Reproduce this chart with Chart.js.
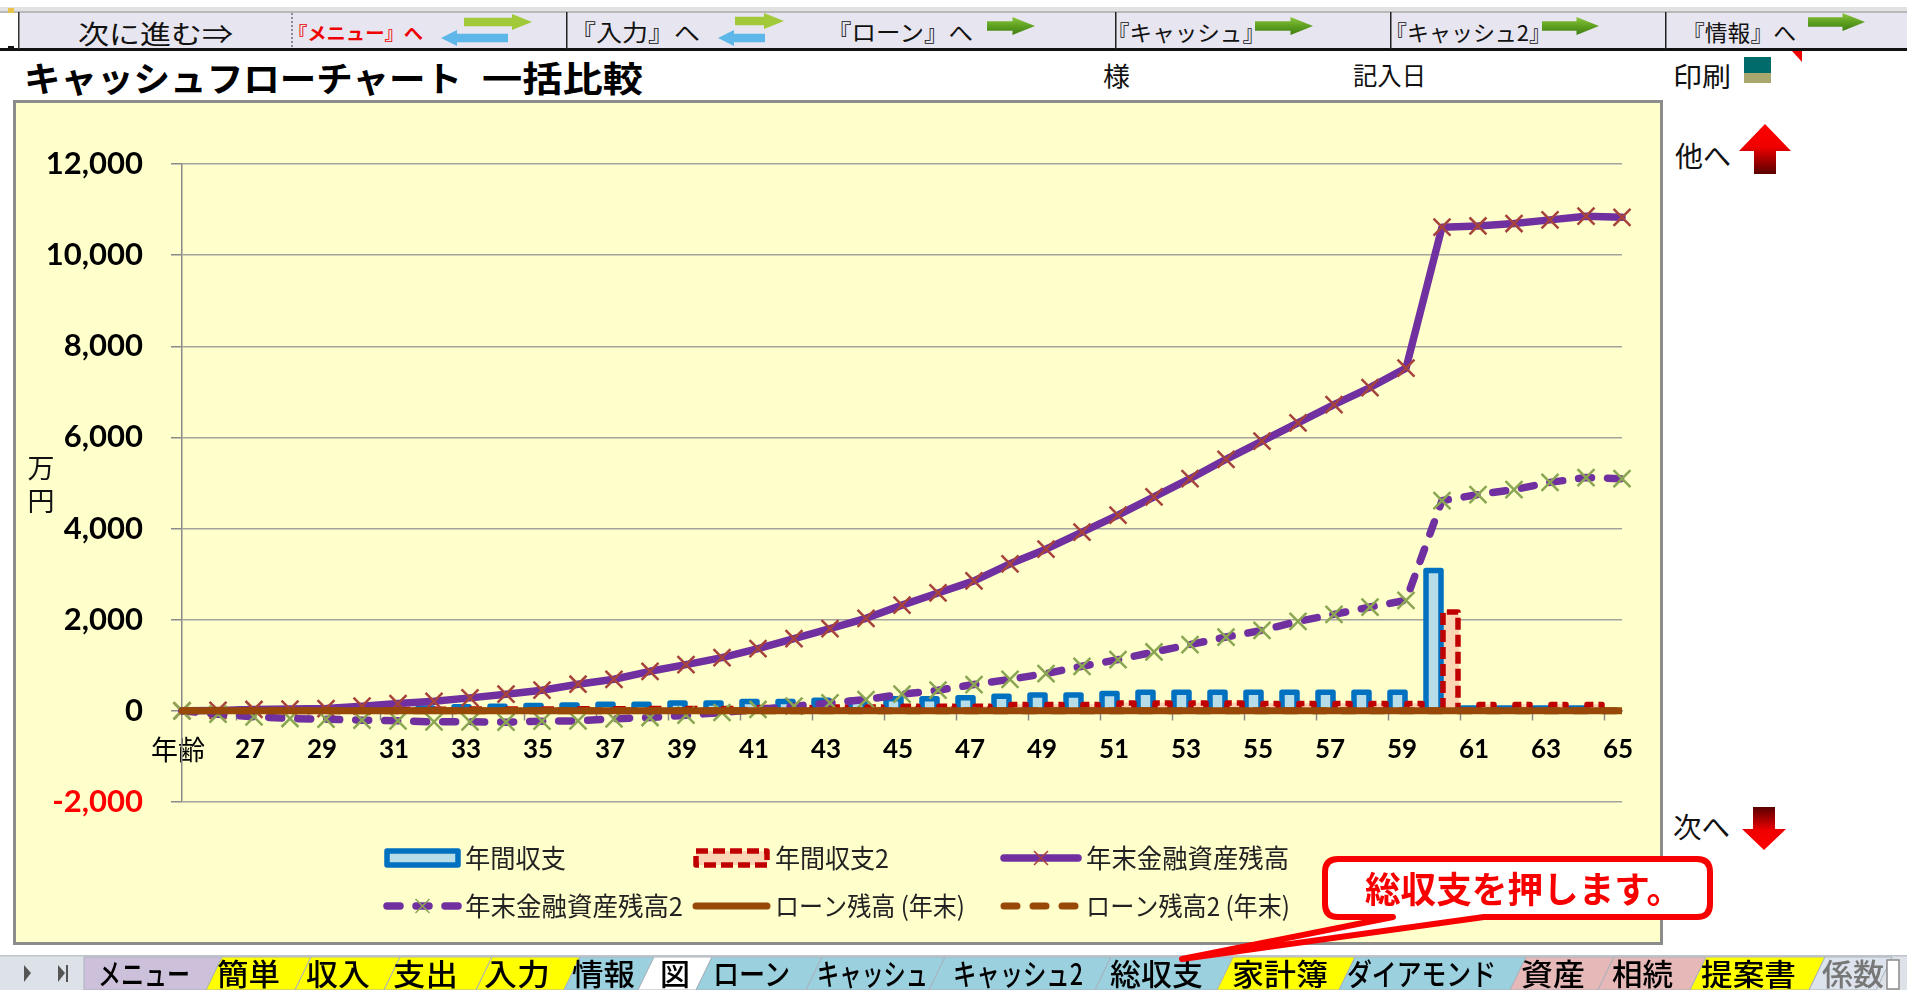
<!DOCTYPE html>
<html lang="ja"><head><meta charset="utf-8">
<style>
html,body{margin:0;padding:0;background:#fff;overflow:hidden;width:1907px;height:990px}
#chrome,#over{position:absolute;left:0;top:0}
#wrap{position:absolute;left:15px;top:102px;width:1646px;height:841px}
canvas{display:block}
</style>
<script src="https://cdn.jsdelivr.net/npm/chart.js@4"></script>
</head><body>
<svg id="chrome" width="1907" height="990"></svg>
<div id="wrap"><canvas id="c" width="1646" height="841" style="width:1646px;height:841px"></canvas></div>
<svg id="over" width="1907" height="990"></svg>
<script>
const categories=[25,26,27,28,29,30,31,32,33,34,35,36,37,38,39,40,41,42,43,44,45,46,47,48,49,50,51,52,53,54,55,56,57,58,59,60,61,62,63,64,65];
const tickLabels=['年齢','','27','','29','','31','','33','','35','','37','','39','','41','','43','','45','','47','','49','','51','','53','','55','','57','','59','','61','','63','','65'];
const seriesNames=['年間収支','年間収支2','年末金融資産残高','年末金融資産残高2','ローン残高 (年末)','ローン残高2 (年末)'];
const annual=[0,0,40,40,45,50,50,60,88,102,117,130,146,146,175,175,204,205,233,235,263,263,285,321,350,350,380,409,409,409,409,409,409,409,409,3080,65,65,65,65,0];
const annual2=[0,0,20,20,25,30,30,35,40,40,40,45,45,50,50,50,73,73,85,85,102,102,102,139,139,139,175,175,175,175,160,160,160,160,160,2170,139,139,139,139,0];
const assets=[0,10,30,40,50,102,160,210,285,365,453,584,693,868,1014,1168,1367,1586,1805,2030,2320,2587,2853,3227,3547,3920,4294,4694,5094,5520,5920,6320,6720,7094,7520,10614,10640,10694,10774,10854,10830];
const assets2=[0,-73,-131,-168,-182,-204,-219,-241,-241,-248,-226,-219,-175,-146,-95,-36,30,102,175,248,365,453,577,693,818,978,1124,1292,1453,1620,1767,1964,2117,2278,2424,4614,4747,4854,5014,5120,5094];
const loan=[0,0,0,0,0,0,0,0,0,0,0,0,0,0,0,0,0,0,0,0,0,0,0,0,0,0,0,0,0,0,0,0,0,0,0,0,0,0,0,0,0];
const loan2=[0,0,0,0,0,0,0,0,0,0,0,0,0,0,0,0,0,0,0,0,0,0,0,0,0,0,0,0,0,0,0,0,0,0,0,0,0,0,0,0,0];

const JP='"Noto Sans CJK JP","Noto Sans",sans-serif';
const NS='http://www.w3.org/2000/svg';
function el(svg,tag,attrs,txt){const e=document.createElementNS(NS,tag);for(const k in attrs)e.setAttribute(k,attrs[k]);if(txt!==undefined)e.textContent=txt;svg.appendChild(e);return e;}
const chrome=document.getElementById('chrome'),over=document.getElementById('over');
function text(svg,s,x0,x1,cy,size,opt={}){
  el(svg,'text',{x:x0,y:cy,'font-family':JP,'font-size':size,'font-weight':opt.weight||400,fill:opt.fill||'#111','dominant-baseline':'central',textLength:x1-x0,lengthAdjust:'spacingAndGlyphs'},s);
}
const defs=el(chrome,'defs',{});
function grad(svg,id,stops,x2,y2){const d=svg.querySelector('defs')||el(svg,'defs',{});const g=el(d,'linearGradient',{id,x1:0,y1:0,x2:x2,y2:y2});stops.forEach(s=>el(g,'stop',{offset:s[0],'stop-color':s[1]}));}
grad(chrome,'gGreen',[[0,'#8CC63F'],[0.5,'#5EA11F'],[1,'#3F7F14']],0,1);
grad(chrome,'gUp',[[0,'#FF0000'],[0.45,'#F00000'],[1,'#5A0000']],0,1);
grad(chrome,'gDown',[[0,'#5A0000'],[0.55,'#F00000'],[1,'#FF0000']],0,1);
function arrowR(svg,x,y,w,h,fill){const hl=h*1.25,t=y+h*0.24,b=y+h*0.76;
  el(svg,'polygon',{points:`${x},${t} ${x+w-hl},${t} ${x+w-hl},${y} ${x+w},${y+h/2} ${x+w-hl},${y+h} ${x+w-hl},${b} ${x},${b}`,fill});}
function arrowL(svg,x,y,w,h,fill){const hl=h*1.0,t=y+h*0.24,b=y+h*0.76;
  el(svg,'polygon',{points:`${x+w},${t} ${x+hl},${t} ${x+hl},${y} ${x},${y+h/2} ${x+hl},${y+h} ${x+hl},${b} ${x+w},${b}`,fill});}

// top band
el(chrome,'rect',{x:0,y:7,width:1907,height:5,fill:'#E2E2E2'});
el(chrome,'rect',{x:18,y:12,width:1889,height:37,fill:'#E7E5EF'});
el(chrome,'rect',{x:0,y:11,width:1907,height:2,fill:'#B9B9B9'});
el(chrome,'rect',{x:0,y:48,width:1907,height:3,fill:'#111'});
el(chrome,'rect',{x:8,y:8,width:6,height:5,fill:'#E8C24A'});
el(chrome,'rect',{x:8,y:46,width:6,height:5,fill:'#111'});
el(chrome,'rect',{x:18,y:12,width:1.5,height:37,fill:'#333'});
el(chrome,'line',{x1:292,y1:13,x2:292,y2:48,stroke:'#333','stroke-width':1,'stroke-dasharray':'2 2'});
[566,1115,1390,1665].forEach(x=>el(chrome,'rect',{x:x,y:12,width:1.5,height:37,fill:'#222'}));
text(chrome,'次に進む⇒',78,233,32,26);
text(chrome,'『メニュー』へ',288,423,32,18,{fill:'#F00000',weight:700});
arrowR(chrome,464,14,68,16,'#A2C93A');arrowL(chrome,441,30,67,16,'#5DB7E8');
text(chrome,'『入力』へ',570,700,31,23);
arrowR(chrome,735,13,49,16,'#A2C93A');arrowL(chrome,718,30,47,16,'#5DB7E8');
text(chrome,'『ローン』へ',827,973,31,23);arrowR(chrome,987,17,48,18,'url(#gGreen)');
text(chrome,'『キャッシュ』',1107,1265,31,22);arrowR(chrome,1255,17,58,18,'url(#gGreen)');
text(chrome,'『キャッシュ2』',1385,1551,31,22);arrowR(chrome,1542,17,57,18,'url(#gGreen)');
text(chrome,'『情報』へ',1682,1796,31,22);arrowR(chrome,1808,13,57,18,'url(#gGreen)');

// heading row
text(chrome,'キャッシュフローチャート',24,462,76,35,{weight:700,fill:'#000'});
text(chrome,'一括比較',482,643,76,35,{weight:700,fill:'#000'});
text(chrome,'様',1103,1130,74,26);
text(chrome,'記入日',1353,1426,74,25);
text(chrome,'印刷',1673,1731,75,27);
el(chrome,'rect',{x:1744,y:57,width:27,height:16,fill:'#006B6B'});
el(chrome,'rect',{x:1744,y:73,width:27,height:10,fill:'#A9A66E'});
el(chrome,'polygon',{points:'1792,51 1802,51 1802,62',fill:'#F00000'});
text(chrome,'他へ',1675,1731,155,28);
el(chrome,'polygon',{points:'1765,124 1791,151 1776,151 1776,174 1754,174 1754,151 1739,151',fill:'url(#gUp)'});
text(chrome,'次へ',1673,1730,826,28);
el(chrome,'polygon',{points:'1753,807 1775,807 1775,829 1786,829 1764,850 1742,829 1753,829',fill:'url(#gDown)'});

// panel
el(chrome,'rect',{x:14.5,y:101.5,width:1647,height:842,fill:'#FFFFCC',stroke:'#8C8C8C','stroke-width':3});

// tabs (on top of everything)
el(over,'rect',{x:0,y:955,width:1907,height:35,fill:'#DDE2E9'});
el(over,'rect',{x:0,y:955,width:1907,height:1.5,fill:'#BFC3C9'});
el(over,'polygon',{points:'24,965 31,973 24,982',fill:'#555'});
el(over,'polygon',{points:'58,965 65,973 58,982',fill:'#555'});
el(over,'rect',{x:66,y:965,width:2,height:17,fill:'#555'});
const tabLabels=['メニュー','簡単','収入','支出','入力','情報','図','ローン','キャッシュ','キャッシュ2','総収支','家計簿','ダイアモンド','資産','相続','提案書','係数'];
const tabEdges=[84,214,303,392,484,572,646,704,814,937,1103,1225,1347,1518,1606,1698,1817,1884];
const tabColors=['#CCC0DA','#FFFF00','#FFFF00','#FFFF00','#FFFF00','#9BD0DF','#FFFFFF','#9BD0DF','#9BD0DF','#9BD0DF','#9BD0DF','#FFFF00','#9BD0DF','#E6B8B7','#E6B8B7','#FFFF00','#DCE3EC'];
const tabText=[[98,190],[217,280],[306,370],[393,458],[484,550],[572,635],[660,690],[713,790],[817,928],[953,1083],[1110,1203],[1232,1328],[1347,1496],[1521,1585],[1612,1673],[1701,1796],[1822,1884]];
tabLabels.forEach((t,i)=>{const a=tabEdges[i],b=tabEdges[i+1];
  const la=i===0?a:a+8,lb=i===0?a:a-8;
  el(over,'polygon',{points:`${la},957 ${b+8},957 ${b-8},990 ${lb},990`,fill:tabColors[i],stroke:'#A9B2BC','stroke-width':1});});
tabLabels.forEach((t,i)=>text(over,t,tabText[i][0],tabText[i][1],972,30,{weight:500,fill:i===16?'#777':'#000'}));
el(over,'rect',{x:1887,y:960,width:12,height:29,fill:'#fff',stroke:'#8a8a8a','stroke-width':1.5});

// callout
el(over,'path',{d:'M1338,859 H1697 Q1710,859 1710,872 V904 Q1710,917 1697,917 H1484 L1182,959 L1393,917 H1338 Q1325,917 1325,904 V872 Q1325,859 1338,859 Z',fill:'#FFFFFF',stroke:'#F80000','stroke-width':6,'stroke-linejoin':'round'});
text(over,'総収支を押します。',1365,1682,887,36,{weight:700,fill:'#F80000'});

// outlined bars, drawn centred on the bar edge like the reference
function strokeBars(chart,index){
  const ds=chart.data.datasets[index],meta=chart.getDatasetMeta(index),ctx=chart.ctx;
  ctx.save();
  ctx.strokeStyle=ds.outline.color;ctx.lineWidth=5.5;ctx.lineJoin='round';
  ctx.setLineDash(ds.outline.dash||[]);
  meta.data.forEach((bar,i)=>{
    if(!ds.data[i])return;
    const p=bar.getProps(['x','y','base','width'],true);
    const h=p.width/2-1;
    ctx.beginPath();ctx.moveTo(p.x-h,p.base);ctx.lineTo(p.x-h,p.y);ctx.lineTo(p.x+h,p.y);ctx.lineTo(p.x+h,p.base);ctx.stroke();
  });
  ctx.restore();
}
const barOutline={id:'barOutline',afterDatasetDraw(chart,args){
  if(args.index===0){strokeBars(chart,0);strokeBars(chart,1);}
}};
// column-aligned legend and unit label
const legendSlots=[[369,446],[678,755],[986,1066],[369,446],[678,755],[986,1066]];
const legendText=[[450,551],[760,874],[1071,1274],[450,668],[760,950],[1071,1275]];
const legendAndUnit={id:'legendAndUnit',afterDraw(chart){
  const ctx=chart.ctx;ctx.save();
  const rows=[756,804];
  chart.data.datasets.forEach((ds,i)=>{
    const y=rows[i<3?0:1],x0=legendSlots[i][0],x1=legendSlots[i][1];
    if(ds.type==='bar'){
      ctx.fillStyle=ds.backgroundColor;ctx.fillRect(x0+3,y-7,x1-x0-6,14);
      ctx.strokeStyle=ds.outline.color;ctx.lineWidth=5.5;ctx.lineJoin='round';
      ctx.setLineDash(ds.outline.dash||[]);ctx.strokeRect(x0+3,y-7,x1-x0-6,14);
    }else{
      ctx.strokeStyle=ds.borderColor;ctx.lineWidth=ds.borderWidth;ctx.lineCap='round';
      ctx.setLineDash(ds.borderDash||[]);
      ctx.beginPath();ctx.moveTo(x0+3,y);ctx.lineTo(x1-3,y);ctx.stroke();
      if(ds.pointStyle==='crossRot'){
        const m=(x0+x1)/2,r=7;ctx.setLineDash([]);ctx.lineCap='butt';ctx.lineWidth=1.5;ctx.strokeStyle=ds.pointBorderColor;
        ctx.beginPath();ctx.moveTo(m-r,y-r);ctx.lineTo(m+r,y+r);ctx.moveTo(m+r,y-r);ctx.lineTo(m-r,y+r);ctx.stroke();
      }
    }
    ctx.setLineDash([]);ctx.lineCap='butt';
    ctx.fillStyle='#222';ctx.font='26px '+JP;ctx.textAlign='left';ctx.textBaseline='middle';
    ctx.fillText(ds.label,legendText[i][0],y,legendText[i][1]-legendText[i][0]);
  });
  ctx.fillStyle='#111';ctx.font='27px '+JP;ctx.textAlign='center';ctx.textBaseline='middle';
  ctx.fillText('万',26,366);ctx.fillText('円',26,399);
  ctx.restore();
}};

const PURPLE='#7030A0',BROWN='#984807';
new Chart(document.getElementById('c'),{
  data:{labels:categories,datasets:[
    {type:'bar',label:seriesNames[0],data:annual,backgroundColor:'#B7DDE8',borderWidth:0,outline:{color:'#0070C0'},barThickness:17,order:5},
    {type:'bar',label:seriesNames[1],data:annual2,backgroundColor:'#FCD5B5',borderWidth:0,outline:{color:'#C00000',dash:[12,5]},barThickness:17,order:6},
    {type:'line',label:seriesNames[2],data:assets,borderColor:PURPLE,borderWidth:7.5,borderCapStyle:'round',borderJoinStyle:'round',tension:0,pointStyle:'crossRot',pointRadius:12,pointBorderColor:'#A5433C',pointBackgroundColor:'transparent',pointBorderWidth:2.5,order:4},
    {type:'line',label:seriesNames[3],data:assets2,borderColor:PURPLE,borderWidth:7.5,borderDash:[13,16],borderCapStyle:'round',borderJoinStyle:'round',tension:0,pointStyle:'crossRot',pointRadius:12,pointBorderColor:'#8BA653',pointBackgroundColor:'transparent',pointBorderWidth:2.5,order:3},
    {type:'line',label:seriesNames[4],data:loan,borderColor:BROWN,borderWidth:7,borderCapStyle:'butt',tension:0,pointRadius:0,order:1},
    {type:'line',label:seriesNames[5],data:loan2,borderColor:BROWN,borderWidth:7,borderDash:[13,16],borderCapStyle:'round',tension:0,pointRadius:0,order:2}
  ]},
  options:{
    responsive:false,animation:false,devicePixelRatio:1,
    layout:{padding:{left:0,right:39,top:62,bottom:141}},
    plugins:{legend:{display:false},title:{display:false},tooltip:{enabled:false}},
    scales:{
      x:{type:'category',position:{y:0},offset:false,
        grid:{drawOnChartArea:false,drawTicks:true,tickLength:9,tickWidth:1.5,tickColor:c=>c.index%2===0?'#8A8A8A':'rgba(0,0,0,0)'},
        border:{color:'#8A8A8A',width:1.5},
        ticks:{autoSkip:false,maxRotation:0,minRotation:0,padding:14,labelOffset:-4,color:'#000',
          callback:(v,i)=>tickLabels[i],
          font:c=>c.index===0?{family:JP,size:27,weight:'400'}:{family:'Lato',size:26,weight:'700'}},
        afterFit(s){s.paddingLeft=0;s.paddingRight=0;}},
      y:{min:-2000,max:12000,
        grid:{color:'#A3A39B',lineWidth:1.5,tickLength:11,tickColor:'#8A8A8A'},
        border:{color:'#8A8A8A',width:1.5},
        ticks:{stepSize:2000,padding:28,color:c=>c.tick.value<0?'#FF0000':'#000',
          font:{family:'Lato',size:31,weight:'700'},
          callback:v=>v.toLocaleString('en-US')},
        afterFit(s){s.width=167;s.paddingTop=0;s.paddingBottom=0;}}
    }
  },
  plugins:[barOutline,legendAndUnit]
});
</script>
</body></html>
